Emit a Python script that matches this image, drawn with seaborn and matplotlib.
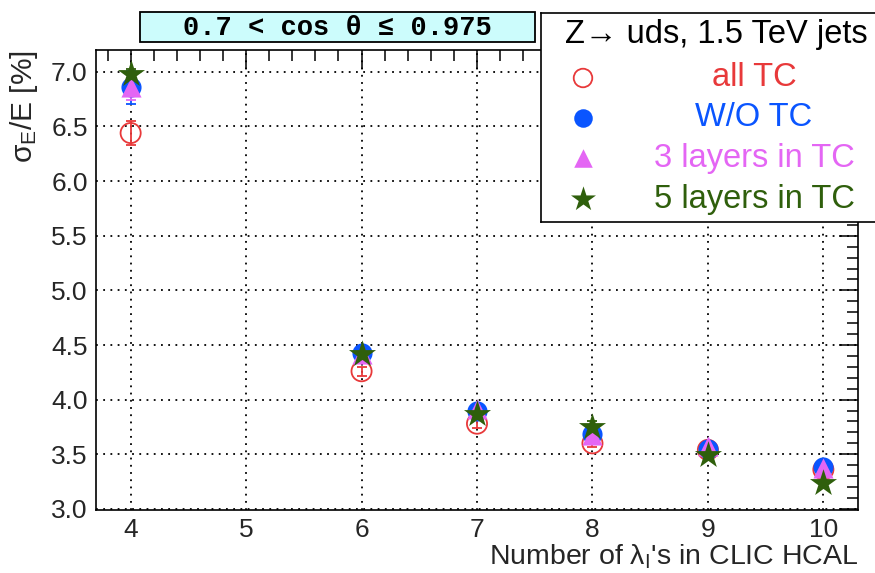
import matplotlib
matplotlib.use("Agg")
import matplotlib.pyplot as plt
from matplotlib.patches import Rectangle
from matplotlib.ticker import MultipleLocator
import seaborn as sns
import pandas as pd

# Energy resolution vs HCAL depth (in interaction lengths)
n_lambda = [4, 6, 7, 8, 9, 10]

all_tc = [6.44, 4.26, 3.78, 3.60, 3.54, 3.36]
all_tc_err = [0.11, 0.04, 0.04, 0.03, 0.03, 0.03]

wo_tc = [6.86, 4.43, 3.90, 3.69, 3.55, 3.38]
wo_tc_err = [0.15, 0.04, 0.03, 0.03, 0.03, 0.03]

three_layers = [6.86, 4.42, 3.91, 3.68, 3.58, 3.37]
three_layers_err = [0.12, 0.05, 0.05, 0.04, 0.04, 0.04]

five_layers = [6.98, 4.42, 3.87, 3.75, 3.49, 3.24]
five_layers_err = [0.05, 0.04, 0.04, 0.05, 0.04, 0.05]

series_names = ["all TC", "W/O TC", "3 layers in TC", "5 layers in TC"]
x_ticks = [4, 5, 6, 7, 8, 9, 10]
y_ticks = [3.0, 3.5, 4.0, 4.5, 5.0, 5.5, 6.0, 6.5, 7.0]

sns.set_theme(style="white")
plt.rcParams["font.family"] = ["Liberation Sans", "DejaVu Sans"]
plt.rcParams["mathtext.fontset"] = "custom"
plt.rcParams["mathtext.rm"] = "Liberation Sans"
plt.rcParams["mathtext.it"] = "Liberation Sans:italic"
plt.rcParams["mathtext.sf"] = "Liberation Sans"

RED = "#e8393a"
BLUE = "#0a55ff"
MAGENTA = "#e466f4"
GREEN = "#2f5f0c"

styles = [
    dict(marker="o", s=210, facecolor="none", edgecolor=RED, linewidth=1.3, color=RED),
    dict(marker="o", s=210, facecolor=BLUE, edgecolor=BLUE, linewidth=0, color=BLUE),
    dict(marker="^", s=210, facecolor=MAGENTA, edgecolor=MAGENTA, linewidth=0, color=MAGENTA),
    dict(marker="*", s=420, facecolor=GREEN, edgecolor=GREEN, linewidth=0, color=GREEN),
]
values = [all_tc, wo_tc, three_layers, five_layers]
errors = [all_tc_err, wo_tc_err, three_layers_err, five_layers_err]

fig = plt.figure(figsize=(8.75, 5.73), dpi=100)
ax = fig.add_axes([96 / 875, 63 / 573, 762 / 875, 460 / 573])

for name, vals, errs, st in zip(series_names, values, errors, styles):
    df = pd.DataFrame({"n": n_lambda, "res": vals, "err": errs})
    ax.errorbar(df["n"], df["res"], yerr=df["err"], fmt="none",
                ecolor=st["color"], elinewidth=1.3, capsize=3.5, capthick=1.3,
                zorder=2)
    sns.scatterplot(data=df, x="n", y="res", ax=ax, marker=st["marker"],
                    s=st["s"], facecolor=st["facecolor"],
                    edgecolor=st["edgecolor"], linewidth=st["linewidth"],
                    zorder=3, legend=False)

ax.set_xlim(3.7, 10.3)
ax.set_ylim(2.99, 7.2)
ax.set_xticks(x_ticks)
ax.set_yticks(y_ticks)
ax.set_yticklabels([f"{v:.1f}" for v in y_ticks])
ax.xaxis.set_minor_locator(MultipleLocator(0.2))
ax.yaxis.set_minor_locator(MultipleLocator(0.1))
ax.tick_params(which="both", direction="in", top=True, right=True,
               color="black", labelsize=19, pad=6)
ax.tick_params(which="major", length=14, width=1.1)
ax.tick_params(which="minor", length=8, width=1.1)
ax.grid(True, which="major", linestyle=(0, (1, 3)), color="black", linewidth=1.3)
for sp in ax.spines.values():
    sp.set_color("black")
    sp.set_linewidth(1.2)

ax.set_xlabel("Number of λ$_{\\mathrm{I}}$'s in CLIC HCAL", fontsize=20.5,
              loc="right", labelpad=0)
ax.set_ylabel("σ$_{\\mathrm{E}}$/E [%]", fontsize=21.5, loc="top", labelpad=8)

# Angular range box
fig.add_artist(Rectangle((140 / 875, 1 - 42 / 573), 395 / 875, 30 / 573,
                         transform=fig.transFigure, facecolor="#ccfcfc",
                         edgecolor="black", linewidth=1.3, zorder=5))
fig.text(337 / 875, 1 - 28 / 573, "0.7 < cos θ ≤ 0.975",
         family=["Liberation Mono", "DejaVu Sans Mono"], weight="bold",
         fontsize=19.5, ha="center", va="center", color="black", zorder=6)

# Legend panel
leg = fig.add_axes([541 / 875, 1 - 222 / 573, 340 / 875, 209 / 573])
leg.set_xlim(541, 881)
leg.set_ylim(222, 13)
leg.set_xticks([])
leg.set_yticks([])
leg.set_facecolor("white")
for sp in leg.spines.values():
    sp.set_color("black")
    sp.set_linewidth(1.2)
leg.text(716, 35, "Z→ uds, 1.5 TeV jets", fontsize=23.5, ha="center", va="center",
         color="black")
entry_y = [78, 118, 158, 199]
for name, yy, st in zip(series_names, entry_y, styles):
    leg.scatter([583], [yy], marker=st["marker"], s=st["s"] * 0.85,
                facecolor=st["facecolor"], edgecolor=st["edgecolor"],
                linewidth=st["linewidth"])
    leg.text(754, yy, name, fontsize=23.5, ha="center", va="center", color=st["color"])

fig.savefig("out.png", dpi=100)
